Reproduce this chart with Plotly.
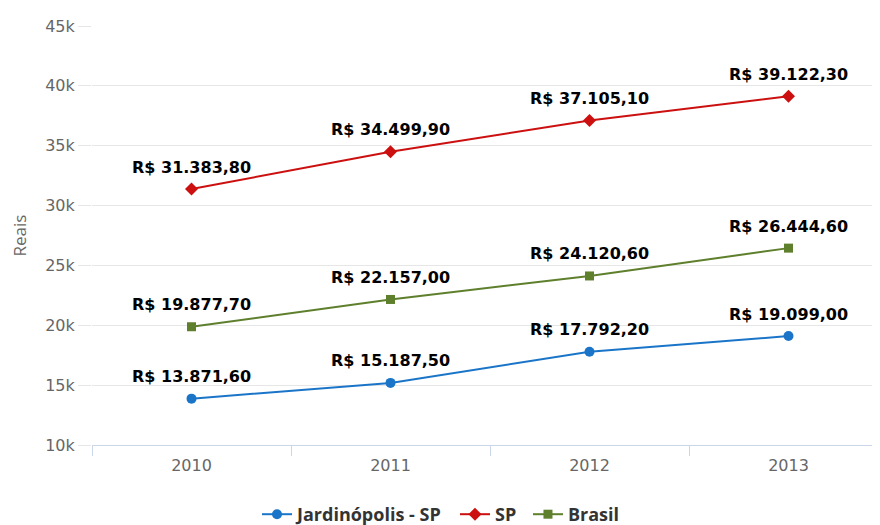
import plotly.graph_objects as go

years = ["2010", "2011", "2012", "2013"]
jardinopolis = [13871.6, 15187.5, 17792.2, 19099.0]
sp = [31383.8, 34499.9, 37105.1, 39122.3]
brasil = [19877.7, 22157.0, 24120.6, 26444.6]
ytick_vals = [10000, 15000, 20000, 25000, 30000, 35000, 40000, 45000]
ytick_text = ["10k", "15k", "20k", "25k", "30k", "35k", "40k", "45k"]

def brl(v):
    s = f"{v:,.2f}"
    s = s.replace(",", "X").replace(".", ",").replace("X", ".")
    return "R$ " + s

series = [
    ("Jardinópolis - SP", jardinopolis, "#1a75c9", "circle", 10, "legend", 0.2073),
    ("SP", sp, "#cc0f0f", "diamond", 10, "legend2", 0.456),
    ("Brasil", brasil, "#5e7f2c", "square", 9, "legend3", 0.5477),
]

legend_y = -0.166
legend_font = dict(family="Open Sans", size=18, color="#333333", weight="bold")

fig = go.Figure()
layout_legends = {}
for name, vals, color, sym, size, lg, lx in series:
    xs = list(range(len(years)))
    fig.add_trace(go.Scatter(
        x=xs, y=vals, name=name, legend=lg,
        mode="lines+markers",
        line=dict(color=color, width=2),
        marker=dict(symbol=sym, size=size, color=color),
        cliponaxis=False,
    ))
    layout_legends[lg] = dict(x=lx, xanchor="left", y=legend_y, yanchor="middle",
                              orientation="h", font=legend_font, itemwidth=30,
                              bgcolor="rgba(0,0,0,0)")
    for xi, v in zip(xs, vals):
        fig.add_annotation(
            x=xi, y=v, xref="x", yref="y", text=brl(v), showarrow=False,
            yshift=22,
            font=dict(family="DejaVu Sans", size=16, color="#000000", weight="bold"),
        )

fig.update_layout(
    width=880, height=525,
    margin=dict(l=84, r=0, t=18, b=85),
    paper_bgcolor="white", plot_bgcolor="white",
    showlegend=True,
    **layout_legends,
    xaxis=dict(
        tickmode="array", tickvals=list(range(len(years))), ticktext=years,
        range=[-0.5, 3.5], showgrid=False, zeroline=False,
        showline=True, linecolor="#ccd6eb", linewidth=1,
        ticks="", ticklabelstandoff=6,
        tickfont=dict(family="DejaVu Sans", size=16, color="#666666"),
        minor=dict(tickmode="array", tickvals=[-0.5, 0.5, 1.5, 2.5], ticks="outside",
                   ticklen=10, tickcolor="#ccd6eb", showgrid=False),
    ),
    yaxis=dict(
        range=[10000, 45000], tickvals=ytick_vals, ticktext=ytick_text,
        showgrid=True, gridcolor="#e6e6e6", gridwidth=1, zeroline=False,
        ticks="outside", ticklen=13, tickcolor="#e6e6e6",
        tickfont=dict(family="DejaVu Sans", size=16, color="#666666"),
        title=dict(text="Reais", font=dict(family="Open Sans", size=17, color="#666666"), standoff=23),
    ),
)

fig.write_html("out.html")
